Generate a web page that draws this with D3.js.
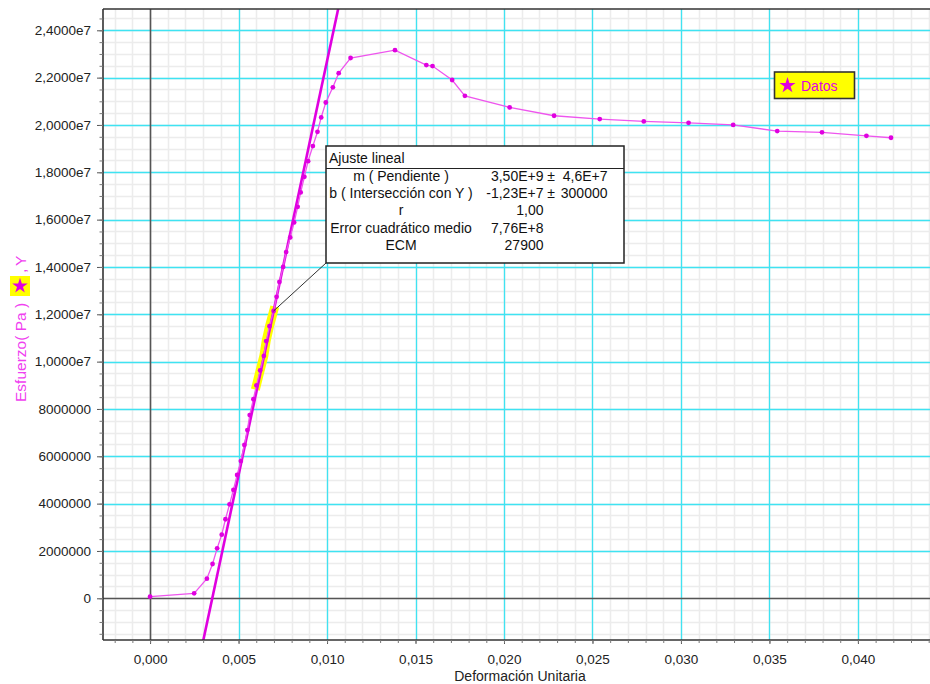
<!DOCTYPE html>
<html>
<head>
<meta charset="utf-8">
<script src="https://cdn.jsdelivr.net/npm/d3@7/dist/d3.min.js"></script>
<style>
  html, body { margin: 0; padding: 0; background: #fff; }
  svg { display: block; font-family: "Liberation Sans", Arial, sans-serif; }
</style>
</head>
<body>
<svg id="chart" width="930" height="684"></svg>
<script>
// Strain (Deformación Unitaria) and stress (Pa) measurements
const strain = [
  0.0000, 0.00249, 0.00321, 0.00353, 0.00379, 0.00405, 0.00426, 0.00449,
  0.00471, 0.00492, 0.00513, 0.00533, 0.00550, 0.00563, 0.00584, 0.00601,
  0.00622, 0.00643, 0.00656, 0.00675, 0.00698, 0.00715, 0.00731, 0.00752,
  0.00769, 0.00792, 0.00814, 0.00834, 0.00851, 0.00872, 0.00893, 0.00920,
  0.00946, 0.00967, 0.00993, 0.01033, 0.01066, 0.01133, 0.01384, 0.01561,
  0.01596, 0.01707, 0.01779, 0.02032, 0.02283, 0.02541, 0.02790, 0.03043,
  0.03295, 0.03544, 0.03797, 0.04048, 0.04187
];
const stress = [
  70000, 210000, 830000, 1450000, 2110000, 2690000, 3340000, 3970000,
  4580000, 5210000, 5800000, 6480000, 7110000, 7740000, 8410000, 9000000,
  9630000, 10240000, 10870000, 11500000, 12140000, 12740000, 13370000, 14000000,
  14630000, 15250000, 15880000, 16540000, 17150000, 17810000, 18470000, 19110000,
  19710000, 20320000, 20950000, 21590000, 22190000, 22830000, 23160000, 22530000,
  22490000, 21900000, 21230000, 20740000, 20390000, 20250000, 20150000, 20090000,
  20000000, 19740000, 19690000, 19540000, 19460000
];
// Points used for the linear fit (indices into the arrays above)
const selectedIdx = [15, 16, 17, 18, 19, 20];

// Linear fit result
const fitSlope = 3.50e9;
const fitIntercept = -1.23e7;
const fitTitle = "Ajuste lineal";
const fitLabels = ["m ( Pendiente )", "b ( Intersección con Y )", "r", "Error cuadrático medio", "ECM"];
const fitValues = ["3,50E+9", "-1,23E+7", "1,00", "7,76E+8", "27900"];
const fitErrors = ["4,6E+7", "300000", "", "", ""];

// Axis ticks
const xTicks = [0, 0.005, 0.010, 0.015, 0.020, 0.025, 0.030, 0.035, 0.040];
const xTickLabels = ["0,000", "0,005", "0,010", "0,015", "0,020", "0,025", "0,030", "0,035", "0,040"];
const yTicks = [0, 2e6, 4e6, 6e6, 8e6, 1e7, 1.2e7, 1.4e7, 1.6e7, 1.8e7, 2.0e7, 2.2e7, 2.4e7];
const yTickLabels = ["0", "2000000", "4000000", "6000000", "8000000", "1,0000e7", "1,2000e7",
  "1,4000e7", "1,6000e7", "1,8000e7", "2,0000e7", "2,2000e7", "2,4000e7"];

const xTitle = "Deformación Unitaria";
const yTitle = "Esfuerzo( Pa )";
const legendLabel = "Datos";

const svg = d3.select("#chart");
const W = 930, H = 684;
const plot = { left: 103, top: 9, right: 931, bottom: 640 };

const x = d3.scaleLinear().domain([-0.00266, 0.04413]).range([plot.left, plot.right]);
const y = d3.scaleLinear().domain([-1.762e6, 2.49e7]).range([plot.bottom, plot.top]);

const MAG = "#e000e0";
const CYAN = "#3fe3f2";

svg.append("rect").attr("width", W).attr("height", H).attr("fill", "#fff");

svg.append("defs").append("clipPath").attr("id", "plotClip")
  .append("rect").attr("x", plot.left).attr("y", plot.top)
  .attr("width", plot.right - plot.left).attr("height", plot.bottom - plot.top);

const g = svg.append("g").attr("clip-path", "url(#plotClip)");

// Minor grid
const xMinor = d3.range(-0.002, 0.0445, 0.001);
const yMinor = d3.range(-1.5e6, 2.5e7, 5e5);
g.append("g").selectAll("line").data(xMinor).join("line")
  .attr("x1", d => Math.round(x(d)) + 0.5).attr("x2", d => Math.round(x(d)) + 0.5)
  .attr("y1", plot.top).attr("y2", plot.bottom)
  .attr("stroke", "#ececec").attr("stroke-width", 1.5);
g.append("g").selectAll("line").data(yMinor).join("line")
  .attr("y1", d => Math.round(y(d)) + 0.5).attr("y2", d => Math.round(y(d)) + 0.5)
  .attr("x1", plot.left).attr("x2", plot.right)
  .attr("stroke", "#ececec").attr("stroke-width", 1.5);

// Major grid
g.append("g").selectAll("line").data(xTicks.filter(d => d !== 0)).join("line")
  .attr("x1", d => Math.round(x(d)) + 0.5).attr("x2", d => Math.round(x(d)) + 0.5)
  .attr("y1", plot.top).attr("y2", plot.bottom)
  .attr("stroke", CYAN).attr("stroke-width", 1.3);
g.append("g").selectAll("line").data(yTicks.filter(d => d !== 0)).join("line")
  .attr("y1", d => Math.round(y(d)) + 0.5).attr("y2", d => Math.round(y(d)) + 0.5)
  .attr("x1", plot.left).attr("x2", plot.right)
  .attr("stroke", CYAN).attr("stroke-width", 1.3);

// Zero lines
g.append("line")
  .attr("x1", Math.round(x(0)) + 0.5).attr("x2", Math.round(x(0)) + 0.5)
  .attr("y1", plot.top).attr("y2", plot.bottom)
  .attr("stroke", "#555").attr("stroke-width", 1.6);
g.append("line")
  .attr("y1", Math.round(y(0)) + 0.5).attr("y2", Math.round(y(0)) + 0.5)
  .attr("x1", plot.left).attr("x2", plot.right)
  .attr("stroke", "#555").attr("stroke-width", 1.6);

const pts = strain.map((s, i) => [s, stress[i]]);
const line = d3.line().x(d => x(d[0])).y(d => y(d[1]));

// Highlight of the points used for the fit
g.append("path")
  .datum(selectedIdx.map(i => pts[i]))
  .attr("d", line)
  .attr("fill", "none").attr("stroke", "#ffff00")
  .attr("stroke-width", 9).attr("stroke-linecap", "square");

// Fitted straight line
const fx0 = x.invert(plot.left), fx1 = x.invert(plot.right);
g.append("line")
  .attr("x1", x(fx0)).attr("y1", y(fitSlope * fx0 + fitIntercept))
  .attr("x2", x(fx1)).attr("y2", y(fitSlope * fx1 + fitIntercept))
  .attr("stroke", MAG).attr("stroke-width", 2.6);

// Data series
g.append("path").datum(pts).attr("d", line)
  .attr("fill", "none").attr("stroke", "#ee55ee").attr("stroke-width", 1.3);
g.append("g").selectAll("circle").data(pts).join("circle")
  .attr("cx", d => x(d[0])).attr("cy", d => y(d[1])).attr("r", 2.4)
  .attr("fill", MAG);

// Plot frame (left, top, bottom)
const frame = svg.append("g").attr("stroke", "#333").attr("stroke-width", 1.6);
frame.append("line").attr("x1", plot.left).attr("x2", plot.left).attr("y1", plot.top).attr("y2", plot.bottom);
frame.append("line").attr("x1", plot.left).attr("x2", W).attr("y1", plot.top).attr("y2", plot.top);
frame.append("line").attr("x1", plot.left).attr("x2", W).attr("y1", plot.bottom).attr("y2", plot.bottom);

// Axes
const yAxis = d3.axisLeft(y).tickValues(yTicks)
  .tickFormat((d, i) => yTickLabels[i]).tickSize(6).tickPadding(6);
const yAx = svg.append("g").attr("transform", `translate(${plot.left},0)`).call(yAxis);
yAx.select(".domain").remove();
yAx.selectAll(".tick line").attr("stroke", "#555");
yAx.selectAll("text").attr("font-size", 13.5).attr("fill", "#222")
  .attr("font-family", "'Liberation Sans', Arial, sans-serif");

const yMinorAxis = d3.axisLeft(y).tickValues(yMinor.filter(v => v > -1.76e6)).tickFormat("").tickSize(3.5);
const yMin = svg.append("g").attr("transform", `translate(${plot.left},0)`).call(yMinorAxis);
yMin.select(".domain").remove();
yMin.selectAll(".tick line").attr("stroke", "#777");

const xAxis = d3.axisBottom(x).tickValues(xTicks)
  .tickFormat((d, i) => xTickLabels[i]).tickSize(4).tickPadding(10);
const xAx = svg.append("g").attr("transform", `translate(0,${plot.bottom})`).call(xAxis);
xAx.select(".domain").remove();
xAx.selectAll(".tick line").attr("stroke", "#555");
xAx.selectAll("text").attr("font-size", 13.5).attr("fill", "#222")
  .attr("font-family", "'Liberation Sans', Arial, sans-serif");

const xMinorAxis = d3.axisBottom(x).tickValues(xMinor).tickFormat("").tickSize(3);
const xMin = svg.append("g").attr("transform", `translate(0,${plot.bottom})`).call(xMinorAxis);
xMin.select(".domain").remove();
xMin.selectAll(".tick line").attr("stroke", "#777");

// Axis titles
svg.append("text").attr("x", 520).attr("y", 681).attr("text-anchor", "middle")
  .attr("font-size", 14).attr("fill", "#222").text(xTitle);

const yt = svg.append("g").attr("transform", "translate(26,329) rotate(-90)");
yt.append("text").attr("x", -73).attr("y", 0).attr("font-size", 15.5)
  .attr("fill", "#f040f0").text(yTitle);
yt.append("rect").attr("x", 33).attr("y", -16).attr("width", 20).attr("height", 20)
  .attr("fill", "#ffff00");
yt.append("path").attr("d", d3.symbol(d3.symbolStar, 75)())
  .attr("transform", "translate(43,-6) rotate(90)").attr("fill", MAG);
yt.append("text").attr("x", 56).attr("y", 0).attr("font-size", 15.5)
  .attr("fill", "#f040f0").text(",");
yt.append("text").attr("x", 63).attr("y", 0).attr("font-size", 15.5)
  .attr("fill", "#f040f0").text("Y");

// Legend
const lg = svg.append("g");
lg.append("rect").attr("x", 774.5).attr("y", 72).attr("width", 80).attr("height", 26.5)
  .attr("fill", "#ffff00").attr("stroke", "#333").attr("stroke-width", 1.6);
lg.append("path").attr("d", d3.symbol(d3.symbolStar, 80)())
  .attr("transform", "translate(787.5,85.5)").attr("fill", MAG);
lg.append("text").attr("x", 801).attr("y", 90.5).attr("font-size", 14)
  .attr("fill", MAG).text(legendLabel);

// Fit summary box with leader line
const bx = 326, by = 146, bw = 298, bh = 117;
const target = pts[selectedIdx[selectedIdx.length - 1]];
svg.append("line").attr("x1", bx).attr("y1", by + bh)
  .attr("x2", x(target[0])).attr("y2", y(target[1]))
  .attr("stroke", "#333").attr("stroke-width", 1);
const box = svg.append("g");
box.append("rect").attr("x", bx).attr("y", by).attr("width", bw).attr("height", bh)
  .attr("fill", "#fff").attr("stroke", "#222").attr("stroke-width", 1.5);
box.append("line").attr("x1", bx).attr("x2", bx + bw).attr("y1", by + 22.5).attr("y2", by + 22.5)
  .attr("stroke", "#222").attr("stroke-width", 1.2);
box.append("text").attr("x", bx + 3).attr("y", by + 17).attr("font-size", 14)
  .attr("fill", "#111").text(fitTitle);
const rowY = i => by + 34.5 + i * 17.4;
box.append("g").selectAll("text").data(fitLabels).join("text")
  .attr("x", 401).attr("y", (d, i) => rowY(i)).attr("text-anchor", "middle")
  .attr("font-size", 14).attr("fill", "#111").text(d => d);
box.append("g").selectAll("text").data(fitValues).join("text")
  .attr("x", 543.5).attr("y", (d, i) => rowY(i)).attr("text-anchor", "end")
  .attr("font-size", 14).attr("fill", "#111").text(d => d);
box.append("g").selectAll("text").data(fitErrors.map((e, i) => [e, i]).filter(d => d[0])).join("text")
  .attr("x", 551).attr("y", d => rowY(d[1])).attr("text-anchor", "middle")
  .attr("font-size", 14).attr("fill", "#111").text("±");
box.append("g").selectAll("text").data(fitErrors.map((e, i) => [e, i]).filter(d => d[0])).join("text")
  .attr("x", 607.5).attr("y", d => rowY(d[1])).attr("text-anchor", "end")
  .attr("font-size", 14).attr("fill", "#111").text(d => d[0]);
</script>
</body>
</html>
